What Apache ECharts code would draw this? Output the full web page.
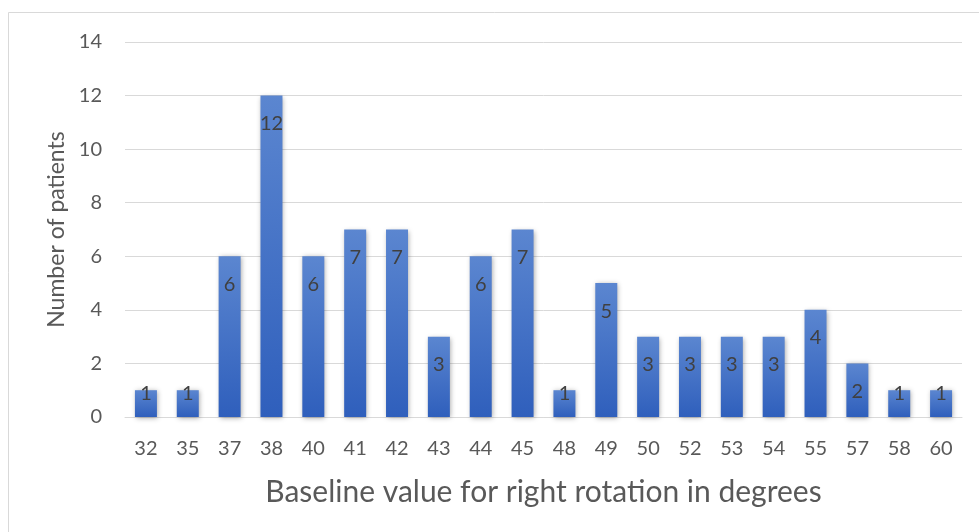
<!DOCTYPE html>
<html>
<head>
<meta charset="utf-8">
<script src="https://cdn.jsdelivr.net/npm/echarts@6/dist/echarts.min.js"></script>
<style>
html,body{margin:0;padding:0;background:#fff;}
#main{width:979px;height:532px;}
</style>
</head>
<body>
<div id="main"></div>
<script>
const categories = ['32','35','37','38','40','41','42','43','44','45','48','49','50','52','53','54','55','57','58','60'];
const patients = [1,1,6,12,6,7,7,3,6,7,1,5,3,3,3,3,4,2,1,1];
const yTicks = { min: 0, max: 14, interval: 2 };
const xTitle = 'Baseline value for right rotation in degrees';
const yTitle = 'Number of patients';

const FONT = 'Lato, "Open Sans", sans-serif';
const chart = echarts.init(document.getElementById('main'), null, {renderer:'canvas'});

const barColor = new echarts.graphic.LinearGradient(0,0,0,1,[
  {offset:0, color:'#5b86d0'},
  {offset:1, color:'#2f5fbc'}
]);

const data = patients.map(v => {
  const item = { value: v };
  if (v <= 1) {
    item.label = { position: 'inside', offset: [0, -10] };
  }
  return item;
});

chart.setOption({
  animation: false,
  backgroundColor: '#ffffff',
  graphic: [{
    type: 'rect',
    shape: { x: 8.5, y: 12.5, width: 1000, height: 540 },
    style: { fill: 'none', stroke: '#d9d9d9', lineWidth: 1 },
    silent: true
  }],
  grid: { left: 125, right: 17, top: 42, bottom: 115 },
  xAxis: {
    type: 'category',
    data: categories,
    axisTick: { show: false },
    axisLine: { lineStyle: { color: '#d9d9d9', width: 1 } },
    axisLabel: { color: '#595959', fontSize: 20, fontFamily: FONT, margin: 22 },
    name: xTitle,
    nameLocation: 'middle',
    nameGap: 60,
    nameTextStyle: { color: '#595959', fontSize: 30, fontFamily: FONT }
  },
  yAxis: {
    type: 'value',
    min: yTicks.min, max: yTicks.max, interval: yTicks.interval,
    axisLine: { show: false },
    axisTick: { show: false },
    splitLine: { lineStyle: { color: '#d9d9d9', width: 1 } },
    axisLabel: { color: '#595959', fontSize: 20, fontFamily: FONT, margin: 23 },
    name: yTitle,
    nameLocation: 'middle',
    nameGap: 56,
    nameTextStyle: { color: '#595959', fontSize: 23, fontFamily: FONT }
  },
  series: [{
    type: 'bar',
    data: data,
    barWidth: 22,
    itemStyle: {
      color: barColor,
      shadowBlur: 5,
      shadowColor: 'rgba(0,0,0,0.35)',
      shadowOffsetX: 1,
      shadowOffsetY: 1
    },
    label: {
      show: true,
      position: 'insideTop',
      distance: 18,
      color: '#404040',
      fontSize: 20,
      fontFamily: FONT
    }
  }]
});
</script>
</body>
</html>
